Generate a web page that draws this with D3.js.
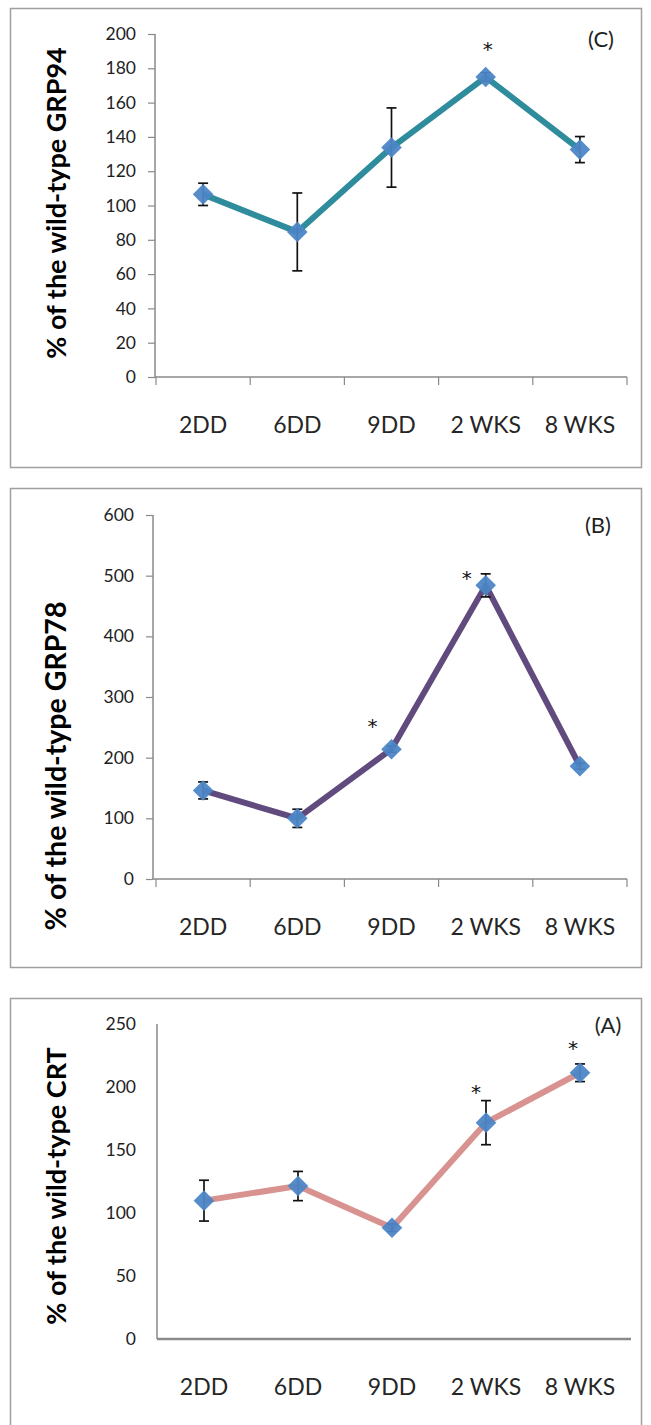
<!DOCTYPE html>
<html>
<head>
<meta charset="utf-8">
<script src="https://cdn.jsdelivr.net/npm/d3@7"></script>
<style>
  html, body { margin: 0; padding: 0; background: #fff; }
  svg { display: block; }
</style>
</head>
<body>
<svg id="chart" width="651" height="1425"></svg>
<script>
// Time points after treatment
const categories = ["2DD", "6DD", "9DD", "2 WKS", "8 WKS"];

// GRP94, % of wild type (mean and error)
const grp94Values = [106.5, 84.6, 133.8, 174.9, 132.6];
const grp94Errors = [6.5, 22.7, 23.1, 2.5, 7.6];
const grp94Stars  = [false, false, false, true, false];
const grp94Ticks  = [0, 20, 40, 60, 80, 100, 120, 140, 160, 180, 200];

// GRP78, % of wild type
const grp78Values = [146, 100, 214, 484, 186];
const grp78Errors = [14, 15, 5, 19, 5];
const grp78Stars  = [false, false, true, true, false];
const grp78Ticks  = [0, 100, 200, 300, 400, 500, 600];

// CRT, % of wild type
const crtValues = [109.8, 121.4, 88.3, 171.7, 211.3];
const crtErrors = [16.2, 11.6, 3, 17.5, 7];
const crtStars  = [false, false, false, true, true];
const crtTicks  = [0, 50, 100, 150, 200, 250];

const svg = d3.select("#chart");
const FONT = "Lato, 'Open Sans', sans-serif";

const panels = [
  {
    tag: "(C)", title: "% of the wild-type GRP94",
    values: grp94Values, errors: grp94Errors, stars: grp94Stars, ticks: grp94Ticks,
    lineColor: "#2f8c9c",
    frame: { x: 10.5, y: 8.5, w: 631, h: 459 },
    plot: { left: 156, right: 627, top: 34, bottom: 377 },
    axisX: 155, tickMarks: true,
    tagPos: [601, 47], titleX: 66, titleY: 203, titleSize: 27,
    starOffset: [[0, 0], [0, 0], [0, 0], [2, -21], [0, 0]]
  },
  {
    tag: "(B)", title: "% of the wild-type GRP78",
    values: grp78Values, errors: grp78Errors, stars: grp78Stars, ticks: grp78Ticks,
    lineColor: "#614a7e",
    frame: { x: 10.5, y: 488.5, w: 631, h: 479 },
    plot: { left: 156, right: 627, top: 515, bottom: 879 },
    axisX: 153, tickMarks: true,
    tagPos: [598, 533], titleX: 66, titleY: 766, titleSize: 28.5,
    starOffset: [[0, 0], [0, 0], [-19, -16], [-19, 0], [0, 0]]
  },
  {
    tag: "(A)", title: "% of the wild-type CRT",
    values: crtValues, errors: crtErrors, stars: crtStars, ticks: crtTicks,
    lineColor: "#d8928f",
    frame: { x: 10.5, y: 998.5, w: 631, h: 460 },
    plot: { left: 157, right: 627, top: 1024, bottom: 1339 },
    axisX: 157, tickMarks: false,
    tagPos: [608, 1033], titleX: 66, titleY: 1186, titleSize: 27,
    starOffset: [[0, 0], [0, 0], [0, 0], [-10, -24], [-7, -18]]
  }
];

const diamond = d3.symbol().type(d3.symbolDiamond2).size(270);

panels.forEach(p => {
  const g = svg.append("g");

  // outer frame
  g.append("rect")
    .attr("x", p.frame.x).attr("y", p.frame.y)
    .attr("width", p.frame.w).attr("height", p.frame.h)
    .attr("fill", "#fff").attr("stroke", "#a0a0a0").attr("stroke-width", 1.5);

  const yMax = d3.max(p.ticks);
  const x = d3.scaleBand().domain(categories).range([p.plot.left, p.plot.right]);
  const y = d3.scaleLinear().domain([0, yMax]).range([p.plot.bottom, p.plot.top]);
  const cx = d => x(d) + x.bandwidth() / 2;

  // y axis
  const yAxis = g.append("g")
    .attr("transform", `translate(${p.axisX},0)`)
    .call(d3.axisLeft(y).tickValues(p.ticks)
      .tickSize(p.tickMarks ? 7 : 0)
      .tickPadding(p.tickMarks ? 12 : 21)
      .tickFormat(d3.format("d")));
  yAxis.select(".domain").attr("stroke", "#8a8a8a").attr("stroke-width", 1.5)
    .attr("d", `M0,${y(yMax)}V${y(0)}`);
  yAxis.selectAll(".tick line").attr("stroke", "#8a8a8a").attr("stroke-width", 1.2);
  yAxis.selectAll(".tick text")
    .attr("fill", "#1e1e1e").style("font-family", FONT).style("font-size", "17.5px");

  // x axis
  const xAxis = g.append("g")
    .attr("transform", `translate(0,${p.plot.bottom})`)
    .call(d3.axisBottom(x).tickSize(0).tickPadding(40));
  xAxis.select(".domain").attr("stroke", "#8a8a8a").attr("stroke-width", p.tickMarks ? 1.5 : 2.5)
    .attr("d", `M${p.axisX},0H${p.plot.right + (p.tickMarks ? 0 : 4)}`);
  xAxis.selectAll(".tick text")
    .attr("fill", "#262626").style("font-family", FONT).style("font-size", "23px");
  if (p.tickMarks) {
    const bounds = categories.map(c => x(c)).concat([p.plot.right]);
    xAxis.selectAll(".bound").data(bounds).join("line")
      .attr("x1", d => d).attr("x2", d => d).attr("y1", 0).attr("y2", 8)
      .attr("stroke", "#8a8a8a").attr("stroke-width", 1.2);
  }

  // y axis title
  g.append("text")
    .attr("transform", `translate(${p.titleX},${p.titleY}) rotate(-90)`)
    .attr("text-anchor", "middle")
    .attr("fill", "#000")
    .style("font-family", FONT)
    .style("font-weight", "bold").style("font-size", p.titleSize + "px")
    .text(p.title);

  // panel tag
  g.append("text")
    .attr("x", p.tagPos[0]).attr("y", p.tagPos[1])
    .attr("text-anchor", "middle")
    .attr("fill", "#222")
    .style("font-family", FONT).style("font-size", "22px")
    .text(p.tag);

  const pts = categories.map((c, i) => ({ c, v: p.values[i], e: p.errors[i], star: p.stars[i], i }));

  // connecting line
  g.append("path")
    .datum(pts)
    .attr("fill", "none")
    .attr("stroke", p.lineColor)
    .attr("stroke-width", 6)
    .attr("stroke-linejoin", "round")
    .attr("d", d3.line().x(d => cx(d.c)).y(d => y(d.v)));

  // error bars
  const eb = g.selectAll(".eb").data(pts).join("g");
  eb.append("line")
    .attr("x1", d => cx(d.c)).attr("x2", d => cx(d.c))
    .attr("y1", d => y(d.v - d.e)).attr("y2", d => y(d.v + d.e))
    .attr("stroke", "#111").attr("stroke-width", 1.7);
  [1, -1].forEach(s => {
    eb.append("line")
      .attr("x1", d => cx(d.c) - 5).attr("x2", d => cx(d.c) + 5)
      .attr("y1", d => y(d.v + s * d.e)).attr("y2", d => y(d.v + s * d.e))
      .attr("stroke", "#111").attr("stroke-width", 1.7);
  });

  // markers
  g.selectAll(".mk").data(pts).join("path")
    .attr("transform", d => `translate(${cx(d.c)},${y(d.v)})`)
    .attr("d", diamond)
    .attr("fill", "#4c86c6")
    .attr("opacity", 0.95);

  // significance marks
  g.selectAll(".star").data(pts.filter(d => d.star)).join("text")
    .attr("x", d => cx(d.c) + p.starOffset[d.i][0])
    .attr("y", d => y(d.v) + p.starOffset[d.i][1])
    .attr("text-anchor", "middle")
    .attr("fill", "#111")
    .style("font-family", "'DejaVu Sans', sans-serif").style("font-size", "20px")
    .text("*");
});
</script>
</body>
</html>
